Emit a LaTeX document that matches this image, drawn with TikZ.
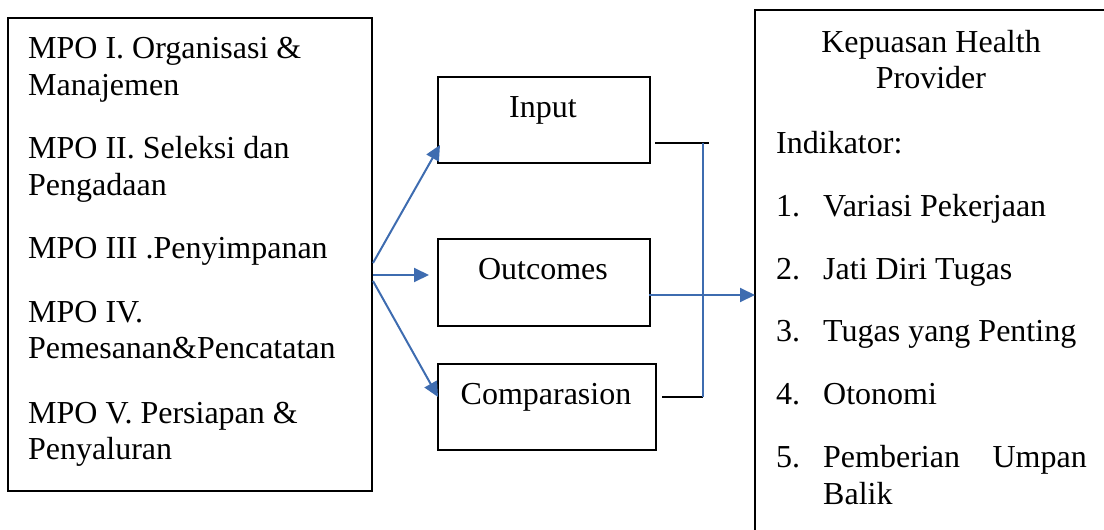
\documentclass[tikz,border=0pt]{standalone}
\usepackage{fontspec}
\setmainfont{Liberation Serif}
\usetikzlibrary{arrows.meta}
\definecolor{bluelink}{RGB}{62,108,176}
\tikzset{
  box/.style={draw=black, line width=2.4pt, inner sep=0pt},
  txt/.style={anchor=base west, inner sep=0pt, font=\fontsize{32}{37}\selectfont},
  ctxt/.style={anchor=base, inner sep=0pt, font=\fontsize{32}{37}\selectfont},
  bluearrow/.style={draw=bluelink, line width=2pt, -{Triangle[length=15pt,width=14pt]}},
  blueline/.style={draw=bluelink, line width=1.5pt},
  blackline/.style={draw=black, line width=1.5pt}
}
\begin{document}
\begin{tikzpicture}[x=1pt, y=-1pt]
\useasboundingbox (0,0) rectangle (1104,530);
\clip (0,0) rectangle (1104,530);
% boxes
\node[box, minimum width=364pt, minimum height=473pt, anchor=north west] (mpo) at (7,17) {};
\node[box, minimum width=212pt, minimum height=86pt, anchor=north west] (input) at (437,76) {};
\node[box, minimum width=212pt, minimum height=87pt, anchor=north west] (outcomes) at (437,238) {};
\node[box, minimum width=218pt, minimum height=86pt, anchor=north west] (comp) at (437,363) {};
\node[box, minimum width=380pt, minimum height=560pt, anchor=north west] (kep) at (754,9) {};
% left texts
\node[txt] (l1) at (28,58) {MPO I. Organisasi \&};
\node[txt] (l2) at (28,95) {Manajemen};
\node[txt] (l3) at (28,158) {MPO II. Seleksi dan};
\node[txt] (l4) at (28,195) {Pengadaan};
\node[txt] (l5) at (28,258) {MPO III .Penyimpanan};
\node[txt] (l6) at (28,322) {MPO IV.};
\node[txt] (l7) at (28,358) {Pemesanan\&Pencatatan};
\node[txt] (l8) at (28,423) {MPO V. Persiapan \&};
\node[txt] (l9) at (28,459) {Penyaluran};
% middle texts
\node[ctxt] (tin) at (543,117) {Input};
\node[ctxt] (tout) at (543,279) {Outcomes};
\node[ctxt] (tcomp) at (546,404) {Comparasion};
% right texts
\node[ctxt] (r1) at (931,52) {Kepuasan Health};
\node[ctxt] (r2) at (931,88) {Provider};
\node[txt] (r3) at (776,153) {Indikator:};
\node[txt] (n1) at (776,216) {1.};
\node[txt] (i1) at (823,216) {Variasi Pekerjaan};
\node[txt] (n2) at (776,279) {2.};
\node[txt] (i2) at (823,279) {Jati Diri Tugas};
\node[txt] (n3) at (776,341) {3.};
\node[txt] (i3) at (823,341) {Tugas yang Penting};
\node[txt] (n4) at (776,404) {4.};
\node[txt] (i4) at (823,404) {Otonomi};
\node[txt] (n5) at (776,467) {5.};
\node[txt] (i5) at (823,467) {Pemberian};
\node[txt, anchor=base east] (i5b) at (1087,467) {Umpan};
\node[txt] (i6) at (823,504) {Balik};
% connector coordinates
\coordinate (s1) at (373,263);
\coordinate (s2) at (373,275);
\coordinate (s3) at (373,281);
\coordinate (e1) at (440,145);
\coordinate (e2) at (429,275);
\coordinate (e3) at (438,397);
\coordinate (ia) at (655,143);
\coordinate (ib) at (709,143);
\coordinate (vt) at (703,143);
\coordinate (vb) at (703,397);
\coordinate (ca) at (662,397);
\coordinate (oa) at (649,295);
\coordinate (ke) at (755,295);
% connectors
\draw[bluearrow] (s1) -- (e1);
\draw[bluearrow] (s2) -- (e2);
\draw[bluearrow] (s3) -- (e3);
\draw[blackline] (ia) -- (ib);
\draw[blackline] (ca) -- (vb);
\draw[blueline] (vt) -- (vb);
\draw[bluearrow] (oa) -- (ke);
\end{tikzpicture}
\end{document}
